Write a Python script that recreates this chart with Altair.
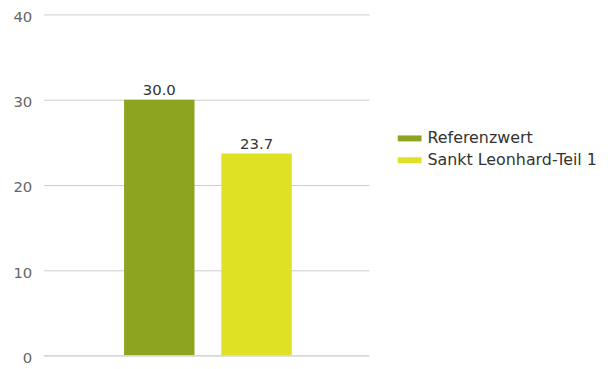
import altair as alt
import pandas as pd

series = ["Referenzwert", "Sankt Leonhard-Teil 1"]
values = [30.0, 23.7]
colors = ["#8da421", "#dfe124"]
y_ticks = [0, 10, 20, 30, 40]

df = pd.DataFrame({
    "series": series,
    "value": values,
    "label": [f"{v:.1f}" for v in values],
})

FONT = "DejaVu Sans"

x_enc = alt.X("series:N", sort=series, axis=None,
              scale=alt.Scale(paddingInner=0.2755, paddingOuter=0.81, align=0.51))
y_scale = alt.Scale(domain=[0, 40], nice=False)

bars = alt.Chart(df).mark_bar().encode(
    x=x_enc,
    y=alt.Y("value:Q", scale=y_scale,
            axis=alt.Axis(values=y_ticks, title=None, domain=False, ticks=False,
                          labelPadding=12, labelFontSize=15, labelColor="#666666",
                          labelFont=FONT, gridColor="#cccccc", labelOffset=2)),
    color=alt.Color("series:N", sort=series,
                    scale=alt.Scale(domain=series, range=colors),
                    legend=alt.Legend(title=None, orient="none", legendX=357, legendY=113,
                                      labelFontSize=16, labelFont=FONT, labelColor="#333333",
                                      labelLimit=0,
                                      symbolType="M-1,-0.25H1V0.25H-1Z", symbolSize=576,
                                      symbolStrokeWidth=0, rowPadding=2, labelOffset=6)),
)

zero = alt.Chart(pd.DataFrame({"y": [0]})).mark_rule(color="#ccd6eb", strokeWidth=1).encode(
    y=alt.Y("y:Q", scale=y_scale)
)

labels = alt.Chart(df).mark_text(baseline="bottom", dy=-2, fontSize=15, font=FONT,
                                 color="#333333").encode(
    x=x_enc,
    y=alt.Y("value:Q", scale=y_scale),
    text="label:N",
)

chart = alt.layer(bars, zero, labels).properties(
    width=328, height=344,
    autosize=alt.AutoSizeParams(type="none"),
    padding={"left": 36, "top": 5, "right": 240, "bottom": 10},
).configure_view(stroke=None)

chart.save("out.html", embed_options={"renderer": "svg", "actions": False})
